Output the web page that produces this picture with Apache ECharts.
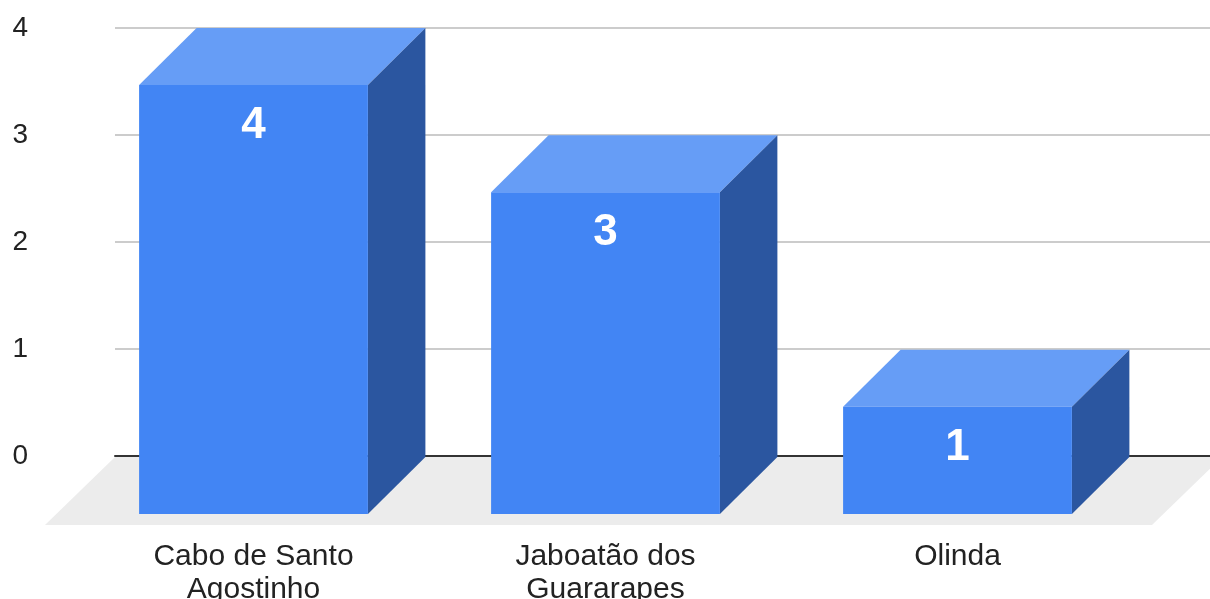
<!DOCTYPE html>
<html>
<head>
<meta charset="utf-8">
<script src="https://cdn.jsdelivr.net/npm/echarts@6/dist/echarts.min.js"></script>
<style>
  html, body { margin: 0; padding: 0; background: #fff; }
  #chart { width: 1210px; height: 599px; }
</style>
</head>
<body>
<div id="chart"></div>
<script>
// Municipalities and their counts
const categories = ['Cabo de Santo\nAgostinho', 'Jaboatão dos\nGuararapes', 'Olinda'];
const values = [4, 3, 1];

// Value axis range
const yMin = 0;
const yMax = 4;
const yInterval = 1;

// Colours of the three visible faces of each box
const FRONT = '#4285f4';
const TOP = '#669df6';
const SIDE = '#2b56a0';
const FLOOR = '#ececec';
const FONT = '"Liberation Sans", Arial, sans-serif';

// Depth of the boxes and of the floor (pixels)
const DEPTH_X = 57.5;
const DEPTH_Y = 57;
const FLOOR_DX = 70;
const FLOOR_DY = 69;
const BAR_RATIO = 0.65;

function renderFloor(params, api) {
  const bl = api.coord([0, 0]);
  const br = api.coord([1, 0]);
  return {
    type: 'polygon',
    shape: {
      points: [
        [bl[0], bl[1] + 1],
        [br[0] + 12, br[1] + 1],
        [br[0] + 12 - FLOOR_DX, br[1] + FLOOR_DY],
        [bl[0] - FLOOR_DX, bl[1] + FLOOR_DY]
      ]
    },
    style: { fill: FLOOR }
  };
}

function renderBox(params, api) {
  const i = api.value(0);
  const v = api.value(1);
  const base = api.coord([i, 0]);
  const top = api.coord([i, v]);
  const bw = api.size([1, 0])[0] * BAR_RATIO;
  const x0 = base[0] - bw / 2;
  const x1 = base[0] + bw / 2;
  const y0 = top[1];
  const y1 = base[1];
  return {
    type: 'group',
    children: [
      {
        type: 'polygon',
        shape: { points: [[x0, y0], [x1, y0], [x1 + DEPTH_X, y0 - DEPTH_Y], [x0 + DEPTH_X, y0 - DEPTH_Y]] },
        style: { fill: TOP }
      },
      {
        type: 'polygon',
        shape: { points: [[x1, y0], [x1 + DEPTH_X, y0 - DEPTH_Y], [x1 + DEPTH_X, y1 - DEPTH_Y], [x1, y1]] },
        style: { fill: SIDE }
      },
      {
        type: 'rect',
        shape: { x: x0, y: y0, width: bw, height: y1 - y0 },
        style: { fill: FRONT }
      },
      {
        type: 'text',
        x: base[0],
        y: y0 + 41,
        style: {
          text: String(v),
          fill: '#ffffff',
          font: 'bold 44px ' + FONT,
          align: 'center',
          verticalAlign: 'middle'
        }
      }
    ]
  };
}

const chart = echarts.init(document.getElementById('chart'));
chart.setOption({
  animation: false,
  backgroundColor: '#ffffff',
  grid: [
    // back plane: gridlines, value labels and the zero line
    { left: 115, right: 0, top: 28, bottom: 143, outerBoundsMode: 'none', containLabel: false },
    // front plane: the faces of the boxes and the category labels
    { left: 77.5, width: 1056, top: 85, bottom: 85, outerBoundsMode: 'none', containLabel: false }
  ],
  xAxis: [
    {
      gridIndex: 0, type: 'value', min: 0, max: 1,
      axisLine: { show: true, lineStyle: { color: '#333333', width: 2 } },
      axisTick: { show: false }, axisLabel: { show: false }, splitLine: { show: false }
    },
    {
      gridIndex: 1, type: 'category', data: categories,
      axisLine: { show: false }, axisTick: { show: false },
      axisLabel: { interval: 0, fontSize: 30, lineHeight: 33, color: '#222222', fontFamily: FONT, margin: 26 }
    }
  ],
  yAxis: [
    {
      gridIndex: 0, type: 'value', min: yMin, max: yMax, interval: yInterval,
      axisLine: { show: false }, axisTick: { show: false },
      axisLabel: { fontSize: 28, color: '#222222', fontFamily: FONT, margin: 87 },
      splitLine: { lineStyle: { color: '#cccccc', width: 2 } }
    },
    { gridIndex: 1, type: 'value', min: yMin, max: yMax, show: false }
  ],
  series: [
    {
      type: 'custom', xAxisIndex: 0, yAxisIndex: 0, z: 1,
      renderItem: renderFloor, data: [[0, 0]], silent: true
    },
    {
      type: 'custom', xAxisIndex: 1, yAxisIndex: 1, z: 3, clip: false,
      renderItem: renderBox,
      data: values.map((v, i) => [i, v])
    }
  ]
});
</script>
</body>
</html>
